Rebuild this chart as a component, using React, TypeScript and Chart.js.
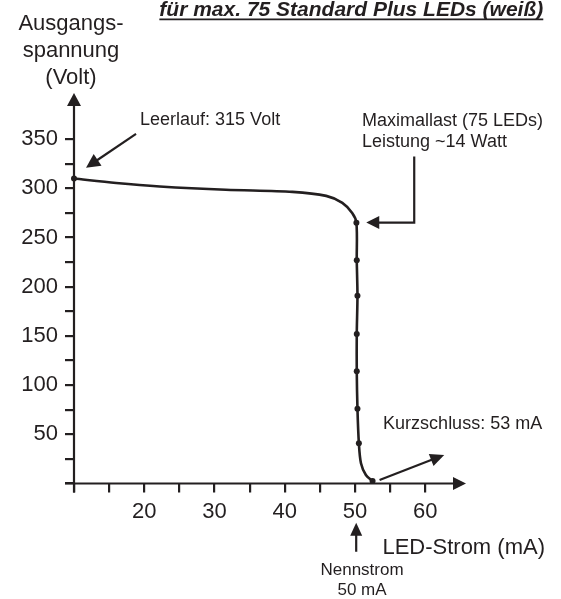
import React, { useEffect, useRef } from 'react';
import { Chart, registerables } from 'chart.js';

Chart.register(...registerables);

// LED current (mA) and output voltage (V) along the characteristic curve
const curveCurrent = [10, 16, 22.2, 31.6, 41.1, 45.9, 48.2, 49.6, 50.2, 50.25, 50.35, 50.25, 50.25, 50.35, 50.55, 50.85, 51.55, 52.5];
const curveVoltage = [310, 305.5, 302, 298.6, 296.5, 292.4, 285.3, 275, 265, 227, 191, 152, 114, 76, 41, 20.5, 8.6, 2.5];

// marked measuring points
const markCurrent = [10, 50.2, 50.25, 50.35, 50.25, 50.25, 50.35, 50.55, 52.5];
const markVoltage = [310, 265, 227, 191, 152, 114, 76, 41, 2.5];

// axis ticks
const xTickValues = [10, 15, 20, 25, 30, 35, 40, 45, 50, 55, 60];
const xLabelValues = [20, 30, 40, 50, 60];
const yTickValues = [0, 25, 50, 75, 100, 125, 150, 175, 200, 225, 250, 275, 300, 325, 350];
const yLabelValues = [50, 100, 150, 200, 250, 300, 350];

const titleText = 'für max. 75 Standard Plus LEDs (weiß)';
const yAxisTitle = ['Ausgangs-', 'spannung', '(Volt)'];
const xAxisTitle = 'LED-Strom (mA)';
const noLoadText = 'Leerlauf: 315 Volt';
const maxLoadText = ['Maximallast (75 LEDs)', 'Leistung ~14 Watt'];
const shortText = 'Kurzschluss: 53 mA';
const nominalText = ['Nennstrom', '50 mA'];

const INK = '#231f20';
const FONT = '"Liberation Sans", Arial, sans-serif';

function arrowHead(ctx: CanvasRenderingContext2D, x1: number, y1: number, x2: number, y2: number, len: number, half: number) {
  const a = Math.atan2(y2 - y1, x2 - x1);
  ctx.beginPath();
  ctx.moveTo(x2, y2);
  ctx.lineTo(x2 - len * Math.cos(a) + half * Math.sin(a), y2 - len * Math.sin(a) - half * Math.cos(a));
  ctx.lineTo(x2 - len * Math.cos(a) - half * Math.sin(a), y2 - len * Math.sin(a) + half * Math.cos(a));
  ctx.closePath();
  ctx.fill();
}

function arrow(ctx: CanvasRenderingContext2D, pts: number[][], len = 13, half = 6) {
  ctx.beginPath();
  ctx.moveTo(pts[0][0], pts[0][1]);
  const n = pts.length;
  const a = Math.atan2(pts[n - 1][1] - pts[n - 2][1], pts[n - 1][0] - pts[n - 2][0]);
  for (let i = 1; i < n - 1; i++) ctx.lineTo(pts[i][0], pts[i][1]);
  ctx.lineTo(pts[n - 1][0] - (len - 2) * Math.cos(a), pts[n - 1][1] - (len - 2) * Math.sin(a));
  ctx.stroke();
  arrowHead(ctx, pts[n - 2][0], pts[n - 2][1], pts[n - 1][0], pts[n - 1][1], len, half);
}

const decorPlugin = {
  id: 'decor',
  afterDraw(chart: any) {
    const ctx: CanvasRenderingContext2D = chart.ctx;
    const xs = chart.scales.x;
    const ys = chart.scales.y;
    const area = chart.chartArea;
    const px = (v: number) => xs.getPixelForValue(v);
    const py = (v: number) => ys.getPixelForValue(v);
    ctx.save();
    ctx.strokeStyle = INK;
    ctx.fillStyle = INK;
    ctx.lineCap = 'butt';

    // axes with arrows
    const x0 = px(10);
    const y0 = py(0);
    ctx.lineWidth = 2.2;
    ctx.beginPath();
    ctx.moveTo(x0 - 9, y0);
    ctx.lineTo(area.right - 11, y0);
    ctx.stroke();
    arrowHead(ctx, x0, y0, area.right, y0, 13, 6.5);
    ctx.beginPath();
    ctx.moveTo(x0, y0 + 9);
    ctx.lineTo(x0, area.top + 11);
    ctx.stroke();
    arrowHead(ctx, x0, y0, x0, area.top, 13, 7);

    // annotation arrows
    ctx.lineWidth = 2.2;
    arrow(ctx, [[px(18.83), py(355.5)], [px(11.71), py(321)]], 14, 7);
    arrow(ctx, [[px(58.43), py(332.4)], [px(58.43), py(265.3)], [px(51.6), py(265.3)]], 13, 6.5);
    arrow(ctx, [[px(53.5), py(3.6)], [px(62.7), py(29)]], 14, 6.5);
    arrow(ctx, [[px(50.17), py(-69.4)], [px(50.17), py(-39.9)]], 13, 6);

    // texts
    ctx.textBaseline = 'alphabetic';
    ctx.font = `18px ${FONT}`;
    ctx.textAlign = 'left';
    ctx.fillText(noLoadText, px(19.4), py(364.7));
    ctx.fillText(maxLoadText[0], px(51.0), py(363));
    ctx.fillText(maxLoadText[1], px(51.0), py(342.6));
    ctx.fillText(shortText, px(54.0), py(55.1));
    ctx.textAlign = 'center';
    ctx.font = `17px ${FONT}`;
    ctx.fillText(nominalText[0], px(51.0), py(-93.1));
    ctx.fillText(nominalText[1], px(51.0), py(-113.4));

    ctx.font = `22px ${FONT}`;
    ctx.textAlign = 'left';
    ctx.fillText(xAxisTitle, px(53.9), py(-71.7));
    ctx.textAlign = 'center';
    const yb = [461.3, 433.9, 406.4];
    yAxisTitle.forEach((t, i) => ctx.fillText(t, px(9.57), py(yb[i])));

    // title (bold italic, underlined, right aligned)
    ctx.font = `italic bold 21px ${FONT}`;
    ctx.textAlign = 'right';
    const tx = px(76.8);
    const ty = py(474.9);
    ctx.fillText(titleText, tx, ty);
    const w = ctx.measureText(titleText).width;
    ctx.lineWidth = 1.6;
    ctx.beginPath();
    ctx.moveTo(tx - w, ty + 3);
    ctx.lineTo(tx, ty + 3);
    ctx.stroke();
    ctx.restore();
  },
};

export default function App() {
  const ref = useRef<HTMLCanvasElement | null>(null);
  useEffect(() => {
    if (!ref.current) return;
    const chart = new Chart(ref.current, {
      type: 'scatter',
      data: {
        datasets: [
          {
            data: curveCurrent.map((x, i) => ({ x, y: curveVoltage[i] })),
            showLine: true,
            borderColor: INK,
            borderWidth: 2.6,
            tension: 0.3,
            pointRadius: 0,
            clip: false as any,
          },
          {
            data: markCurrent.map((x, i) => ({ x, y: markVoltage[i] })),
            showLine: false,
            backgroundColor: INK,
            borderColor: INK,
            pointRadius: 3,
            borderWidth: 0,
            clip: false as any,
          },
        ],
      },
      options: {
        responsive: false,
        animation: false,
        events: [],
        layout: { padding: { top: 93, right: 95, left: 0, bottom: 0 } },
        plugins: { legend: { display: false }, tooltip: { enabled: false }, title: { display: false } },
        scales: {
          x: {
            type: 'linear',
            min: 10,
            max: 65.8,
            border: { display: false },
            grid: { drawOnChartArea: false, drawTicks: true, tickLength: 9, color: INK, tickColor: INK, tickWidth: 2.2, lineWidth: 2.2 },
            afterBuildTicks: (scale: any) => { scale.ticks = xTickValues.map((value) => ({ value })); },
            afterFit: (scale: any) => { scale.height = 115.5; },
            ticks: {
              padding: 6,
              color: INK,
              font: { family: FONT, size: 22 },
              maxRotation: 0,
              autoSkip: false,
              callback: (v: any) => (xLabelValues.includes(Number(v)) ? String(v) : ''),
            },
          },
          y: {
            type: 'linear',
            min: 0,
            max: 397,
            border: { display: false },
            grid: { drawOnChartArea: false, drawTicks: true, tickLength: 9, color: INK, tickColor: INK, tickWidth: 2.2, lineWidth: 2.2 },
            afterBuildTicks: (scale: any) => { scale.ticks = yTickValues.map((value) => ({ value })); },
            afterFit: (scale: any) => { scale.width = 74; },
            ticks: {
              padding: 7,
              color: INK,
              font: { family: FONT, size: 22 },
              autoSkip: false,
              callback: (v: any) => (yLabelValues.includes(Number(v)) ? String(v) : ''),
            },
          },
        },
      },
      plugins: [decorPlugin],
    } as any);
    return () => chart.destroy();
  }, []);
  return (
    <div style={{ position: 'fixed', left: 0, top: 0, width: 561, height: 599, background: '#fff' }}>
      <canvas ref={ref} width={561} height={599} />
    </div>
  );
}
